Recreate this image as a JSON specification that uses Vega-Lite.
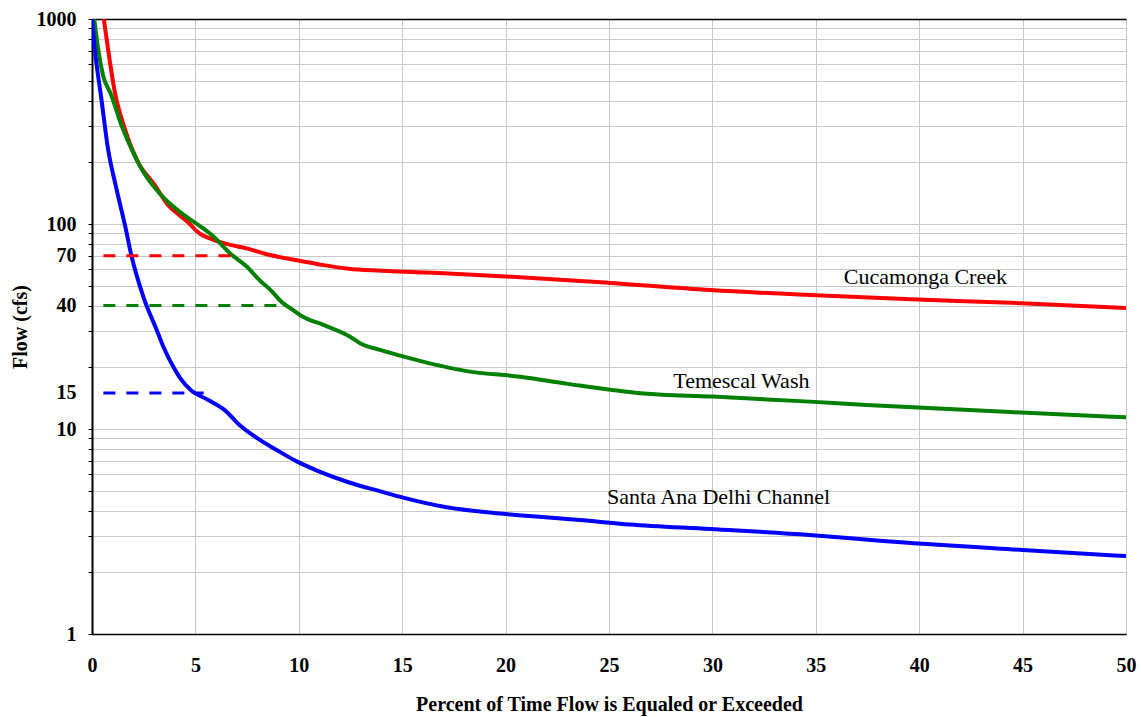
{
  "$schema": "https://vega.github.io/schema/vega-lite/v6.json",
  "width": 1034,
  "height": 615,
  "autosize": {"type": "none"},
  "padding": {"left": 92, "top": 19, "right": 15, "bottom": 83},
  "background": "white",
  "config": {
    "view": {"stroke": "#808080", "strokeWidth": 1},
    "axis": {
      "labelFont": "Liberation Serif",
      "labelFontWeight": "bold",
      "labelFontSize": 20,
      "labelColor": "#000",
      "titleFont": "Liberation Serif",
      "titleFontWeight": "bold",
      "titleFontSize": 20,
      "titleColor": "#000",
      "domainColor": "#000",
      "gridColor": "#c8c8c8",
      "gridWidth": 1
    },
    "axisX": {"grid": false}
  },
  "datasets": {
    "curves": [
      {"s": "Cucamonga Creek", "p": 0.57, "q": 1000},
      {"s": "Cucamonga Creek", "p": 0.77, "q": 721},
      {"s": "Cucamonga Creek", "p": 1.10, "q": 442},
      {"s": "Cucamonga Creek", "p": 1.58, "q": 293},
      {"s": "Cucamonga Creek", "p": 2.22, "q": 201},
      {"s": "Cucamonga Creek", "p": 3.03, "q": 155},
      {"s": "Cucamonga Creek", "p": 3.67, "q": 124},
      {"s": "Cucamonga Creek", "p": 4.2, "q": 111},
      {"s": "Cucamonga Creek", "p": 4.64, "q": 102},
      {"s": "Cucamonga Creek", "p": 5.13, "q": 91},
      {"s": "Cucamonga Creek", "p": 5.85, "q": 84},
      {"s": "Cucamonga Creek", "p": 6.5, "q": 80},
      {"s": "Cucamonga Creek", "p": 7.48, "q": 76},
      {"s": "Cucamonga Creek", "p": 8.5, "q": 71},
      {"s": "Cucamonga Creek", "p": 9.9, "q": 66.5},
      {"s": "Cucamonga Creek", "p": 11, "q": 63.5},
      {"s": "Cucamonga Creek", "p": 12.4, "q": 60.5},
      {"s": "Cucamonga Creek", "p": 14, "q": 59.2},
      {"s": "Cucamonga Creek", "p": 17, "q": 57.5},
      {"s": "Cucamonga Creek", "p": 20, "q": 55.5},
      {"s": "Cucamonga Creek", "p": 24.6, "q": 52},
      {"s": "Cucamonga Creek", "p": 29.9, "q": 47.6},
      {"s": "Cucamonga Creek", "p": 34.7, "q": 45},
      {"s": "Cucamonga Creek", "p": 39.6, "q": 42.9},
      {"s": "Cucamonga Creek", "p": 44.4, "q": 41.3},
      {"s": "Cucamonga Creek", "p": 50, "q": 38.9},
      {"s": "Temescal Wash", "p": 0.11, "q": 1000},
      {"s": "Temescal Wash", "p": 0.29, "q": 721},
      {"s": "Temescal Wash", "p": 0.53, "q": 533},
      {"s": "Temescal Wash", "p": 0.93, "q": 426},
      {"s": "Temescal Wash", "p": 1.42, "q": 304},
      {"s": "Temescal Wash", "p": 1.90, "q": 234},
      {"s": "Temescal Wash", "p": 2.38, "q": 187},
      {"s": "Temescal Wash", "p": 3.19, "q": 144},
      {"s": "Temescal Wash", "p": 3.83, "q": 124},
      {"s": "Temescal Wash", "p": 4.64, "q": 107},
      {"s": "Temescal Wash", "p": 5.2, "q": 98},
      {"s": "Temescal Wash", "p": 5.87, "q": 87},
      {"s": "Temescal Wash", "p": 6.67, "q": 72},
      {"s": "Temescal Wash", "p": 7.48, "q": 62},
      {"s": "Temescal Wash", "p": 8.12, "q": 53},
      {"s": "Temescal Wash", "p": 8.6, "q": 48},
      {"s": "Temescal Wash", "p": 9.25, "q": 41},
      {"s": "Temescal Wash", "p": 9.73, "q": 38},
      {"s": "Temescal Wash", "p": 10.2, "q": 35.3},
      {"s": "Temescal Wash", "p": 11.19, "q": 32.2},
      {"s": "Temescal Wash", "p": 12.48, "q": 28.2},
      {"s": "Temescal Wash", "p": 12.96, "q": 26.2},
      {"s": "Temescal Wash", "p": 13.93, "q": 24.3},
      {"s": "Temescal Wash", "p": 15.86, "q": 21.5},
      {"s": "Temescal Wash", "p": 18.28, "q": 19.05},
      {"s": "Temescal Wash", "p": 20.7, "q": 18},
      {"s": "Temescal Wash", "p": 23, "q": 16.6},
      {"s": "Temescal Wash", "p": 26.66, "q": 14.9},
      {"s": "Temescal Wash", "p": 30, "q": 14.4},
      {"s": "Temescal Wash", "p": 34.7, "q": 13.6},
      {"s": "Temescal Wash", "p": 37.46, "q": 13.1},
      {"s": "Temescal Wash", "p": 44.4, "q": 12.1},
      {"s": "Temescal Wash", "p": 50, "q": 11.4},
      {"s": "Santa Ana Delhi Channel", "p": 0.0, "q": 1000},
      {"s": "Santa Ana Delhi Channel", "p": 0.13, "q": 721},
      {"s": "Santa Ana Delhi Channel", "p": 0.45, "q": 410},
      {"s": "Santa Ana Delhi Channel", "p": 0.77, "q": 234},
      {"s": "Santa Ana Delhi Channel", "p": 1.18, "q": 149},
      {"s": "Santa Ana Delhi Channel", "p": 1.66, "q": 92},
      {"s": "Santa Ana Delhi Channel", "p": 1.84, "q": 75},
      {"s": "Santa Ana Delhi Channel", "p": 2.48, "q": 44.2},
      {"s": "Santa Ana Delhi Channel", "p": 3.13, "q": 30.4},
      {"s": "Santa Ana Delhi Channel", "p": 3.45, "q": 25.2},
      {"s": "Santa Ana Delhi Channel", "p": 3.97, "q": 19.8},
      {"s": "Santa Ana Delhi Channel", "p": 4.3, "q": 17.5},
      {"s": "Santa Ana Delhi Channel", "p": 4.8, "q": 15.4},
      {"s": "Santa Ana Delhi Channel", "p": 5.6, "q": 13.9},
      {"s": "Santa Ana Delhi Channel", "p": 6.4, "q": 12.4},
      {"s": "Santa Ana Delhi Channel", "p": 7.16, "q": 10.4},
      {"s": "Santa Ana Delhi Channel", "p": 8.0, "q": 9.0},
      {"s": "Santa Ana Delhi Channel", "p": 8.93, "q": 7.9},
      {"s": "Santa Ana Delhi Channel", "p": 9.9, "q": 6.95},
      {"s": "Santa Ana Delhi Channel", "p": 11, "q": 6.2},
      {"s": "Santa Ana Delhi Channel", "p": 12.4, "q": 5.5},
      {"s": "Santa Ana Delhi Channel", "p": 14, "q": 4.95},
      {"s": "Santa Ana Delhi Channel", "p": 15, "q": 4.64},
      {"s": "Santa Ana Delhi Channel", "p": 17.15, "q": 4.15},
      {"s": "Santa Ana Delhi Channel", "p": 20, "q": 3.85},
      {"s": "Santa Ana Delhi Channel", "p": 23.6, "q": 3.6},
      {"s": "Santa Ana Delhi Channel", "p": 26, "q": 3.42},
      {"s": "Santa Ana Delhi Channel", "p": 29.9, "q": 3.25},
      {"s": "Santa Ana Delhi Channel", "p": 34.7, "q": 3.04},
      {"s": "Santa Ana Delhi Channel", "p": 38.1, "q": 2.85},
      {"s": "Santa Ana Delhi Channel", "p": 45, "q": 2.57},
      {"s": "Santa Ana Delhi Channel", "p": 50, "q": 2.4}
    ],
    "refs": [
      {"s": "Cucamonga Creek", "p": 0.55, "q": 70},
      {"s": "Cucamonga Creek", "p": 6.8, "q": 70},
      {"s": "Temescal Wash", "p": 0.55, "q": 40},
      {"s": "Temescal Wash", "p": 9.2, "q": 40},
      {"s": "Santa Ana Delhi Channel", "p": 0.55, "q": 15},
      {"s": "Santa Ana Delhi Channel", "p": 5.4, "q": 15}
    ],
    "labels": [
      {"t": "Cucamonga Creek", "p": 40.3, "q": 55.1},
      {"t": "Temescal Wash", "p": 31.4, "q": 17.1},
      {"t": "Santa Ana Delhi Channel", "p": 30.3, "q": 4.66}
    ]
  },
  "layer": [
    {
      "data": {"name": "curves"},
      "mark": {"type": "line", "strokeWidth": 4, "clip": true, "interpolate": "monotone"},
      "encoding": {
        "x": {
          "field": "p", "type": "quantitative",
          "scale": {"domain": [0, 50], "nice": false, "zero": false},
          "axis": {
            "orient": "bottom",
            "values": [0, 5, 10, 15, 20, 25, 30, 35, 40, 45, 50],
            "grid": true,
            "title": "Percent of Time Flow is Equaled or Exceeded",
            "ticks": false, "tickSize": 0, "labelPadding": 21, "titlePadding": 19,
            "domainWidth": 1.5, "labelFlush": false, "labelOverlap": false
          }
        },
        "y": {
          "field": "q", "type": "quantitative",
          "scale": {"type": "log", "domain": [1, 1000], "nice": false},
          "axis": {
            "values": [1, 2, 3, 4, 5, 6, 7, 8, 9, 10, 15, 20, 30, 40, 50, 60, 70, 80, 90, 100, 200, 300, 400, 500, 600, 700, 800, 900, 1000],
            "labelExpr": "indexof([1, 10, 15, 40, 70, 100, 1000], datum.value) >= 0 ? '' + datum.value : ''",
            "title": "Flow (cfs)",
            "tickSize": 4, "tickColor": {"condition": {"test": "datum.value == 15", "value": "transparent"}, "value": "#000"},
            "gridColor": {"condition": {"test": "datum.value == 15", "value": "transparent"}, "value": "#c8c8c8"},
            "labelPadding": 12, "titlePadding": 6, "domainWidth": 2,
            "labelOverlap": false, "labelFlush": false
          }
        },
        "color": {
          "field": "s", "type": "nominal",
          "scale": {"domain": ["Cucamonga Creek", "Temescal Wash", "Santa Ana Delhi Channel"], "range": ["#ff0000", "#008000", "#0000ff"]},
          "legend": null
        }
      }
    },
    {
      "data": {"name": "refs"},
      "mark": {"type": "line", "strokeWidth": 3, "strokeDash": [12, 11]},
      "encoding": {
        "x": {"field": "p", "type": "quantitative", "axis": null},
        "y": {"field": "q", "type": "quantitative"},
        "color": {"field": "s", "type": "nominal", "legend": null},
        "detail": {"field": "s"}
      }
    },
    {
      "data": {"name": "labels"},
      "mark": {"type": "text", "font": "Liberation Serif", "fontSize": 22, "color": "#000", "align": "center", "baseline": "middle"},
      "encoding": {
        "x": {"field": "p", "type": "quantitative", "axis": {"orient": "top", "labels": false, "ticks": false, "grid": false, "title": null, "domainColor": "#000", "domainWidth": 1.5}},
        "y": {"field": "q", "type": "quantitative"},
        "text": {"field": "t"}
      }
    }
  ],
  "resolve": {"axis": {"x": "independent"}}
}
